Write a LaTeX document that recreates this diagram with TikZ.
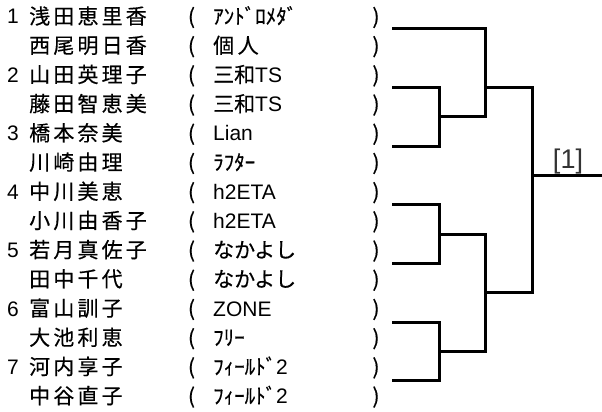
\documentclass[tikz,border=0pt]{standalone}
\usepackage{fontspec}
\setmainfont{Noto Sans CJK JP}[FakeBold=0.4]
\newfontfamily\plyrfont{Noto Sans CJK JP}[LetterSpace=15,FakeBold=0.4]
\newfontfamily\latfont{Liberation Sans}

\begin{document}
\begin{tikzpicture}[x=1pt,y=-1pt,line join=miter,
  txt/.style={inner sep=0pt,font=\fontsize{21}{25}\selectfont},
  seedno/.style={txt,anchor=base,font=\latfont\fontsize{21}{25}\selectfont},
  plyr/.style={txt,anchor=base west,font=\plyrfont\fontsize{21}{25}\selectfont},
  club/.style={txt,anchor=base west},
  paren/.style={txt,anchor=base},
  wire/.style={line width=3pt}]
\useasboundingbox (0,0) rectangle (602,412);
% players
\node[seedno] (s1) at (13,24) {1};   \node[plyr] (p1) at (29,24) {浅田恵里香};
\node[paren] (l1) at (191.5,24) {(};   \node[club] (c1) at (213,24) {ｱﾝﾄﾞﾛﾒﾀﾞ};   \node[paren] (r1) at (376,24) {)};
\node[plyr] (p2) at (29,53.2) {西尾明日香};
\node[paren] (l2) at (191.5,53.2) {(};   \node[club] (c2) at (213,53.2) {個\,人};   \node[paren] (r2) at (376,53.2) {)};
\node[seedno] (s2) at (13,82.4) {2};   \node[plyr] (p3) at (29,82.4) {山田英理子};
\node[paren] (l3) at (191.5,82.4) {(};   \node[club] (c3) at (213,82.4) {三和{\latfont TS}};   \node[paren] (r3) at (376,82.4) {)};
\node[plyr] (p4) at (29,111.6) {藤田智恵美};
\node[paren] (l4) at (191.5,111.6) {(};   \node[club] (c4) at (213,111.6) {三和{\latfont TS}};   \node[paren] (r4) at (376,111.6) {)};
\node[seedno] (s3) at (13,140.8) {3};   \node[plyr] (p5) at (29,140.8) {橋本奈美};
\node[paren] (l5) at (191.5,140.8) {(};   \node[club] (c5) at (213,140.8) {\latfont Lian};   \node[paren] (r5) at (376,140.8) {)};
\node[plyr] (p6) at (29,170) {川崎由理};
\node[paren] (l6) at (191.5,170) {(};   \node[club] (c6) at (213,170) {ﾗﾌﾀｰ};   \node[paren] (r6) at (376,170) {)};
\node[seedno] (s4) at (13,199.2) {4};   \node[plyr] (p7) at (29,199.2) {中川美恵};
\node[paren] (l7) at (191.5,199.2) {(};   \node[club] (c7) at (213,199.2) {\latfont h2ETA};   \node[paren] (r7) at (376,199.2) {)};
\node[plyr] (p8) at (29,228.4) {小川由香子};
\node[paren] (l8) at (191.5,228.4) {(};   \node[club] (c8) at (213,228.4) {\latfont h2ETA};   \node[paren] (r8) at (376,228.4) {)};
\node[seedno] (s5) at (13,257.6) {5};   \node[plyr] (p9) at (29,257.6) {若月真佐子};
\node[paren] (l9) at (191.5,257.6) {(};   \node[club] (c9) at (213,257.6) {なかよし};   \node[paren] (r9) at (376,257.6) {)};
\node[plyr] (p10) at (29,286.8) {田中千代};
\node[paren] (l10) at (191.5,286.8) {(};   \node[club] (c10) at (213,286.8) {なかよし};   \node[paren] (r10) at (376,286.8) {)};
\node[seedno] (s6) at (13,316) {6};   \node[plyr] (p11) at (29,316) {富山訓子};
\node[paren] (l11) at (191.5,316) {(};   \node[club] (c11) at (213,316) {\latfont ZONE};   \node[paren] (r11) at (376,316) {)};
\node[plyr] (p12) at (29,345.2) {大池利恵};
\node[paren] (l12) at (191.5,345.2) {(};   \node[club] (c12) at (213,345.2) {ﾌﾘｰ};   \node[paren] (r12) at (376,345.2) {)};
\node[seedno] (s7) at (13,374.4) {7};   \node[plyr] (p13) at (29,374.4) {河内享子};
\node[paren] (l13) at (191.5,374.4) {(};   \node[club] (c13) at (213,374.4) {ﾌｨｰﾙﾄﾞ{\latfont 2}};   \node[paren] (r13) at (376,374.4) {)};
\node[plyr] (p14) at (29,403.6) {中谷直子};
\node[paren] (l14) at (191.5,403.6) {(};   \node[club] (c14) at (213,403.6) {ﾌｨｰﾙﾄﾞ{\latfont 2}};   \node[paren] (r14) at (376,403.6) {)};
% bracket
\coordinate (e1) at (392,29);
\coordinate (e2) at (392,87.6);
\coordinate (e3) at (392,146.2);
\coordinate (e4) at (392,204.8);
\coordinate (e5) at (392,263.4);
\coordinate (e6) at (392,322);
\coordinate (e7) at (392,380.6);
\coordinate (j23) at (439,116.9);
\coordinate (j45) at (439,234.1);
\coordinate (j67) at (439,351.3);
\coordinate (m1) at (485,116.9);
\coordinate (m2) at (485,351.3);
\coordinate (k1) at (485,87.6);
\coordinate (k2) at (485,292.7);
\coordinate (f2) at (532,292.7);
\coordinate (f3) at (532,175);
\coordinate (out) at (602,175);
\draw[wire] (e2) -| (j23) |- (e3);
\draw[wire] (e4) -| (j45) |- (e5);
\draw[wire] (e6) -| (j67) |- (e7);
\draw[wire] (e1) -| (m1) -- (j23);
\draw[wire] (j45) -| (m2) -- (j67);
\draw[wire] (k1) -| (f2) -- (k2);
\draw[wire] (f3) -- (out);
\node[txt,anchor=base,font=\latfont\fontsize{27}{30}\selectfont,text=black!80] (champ) at (568,168) {[1]};
\end{tikzpicture}
\end{document}
